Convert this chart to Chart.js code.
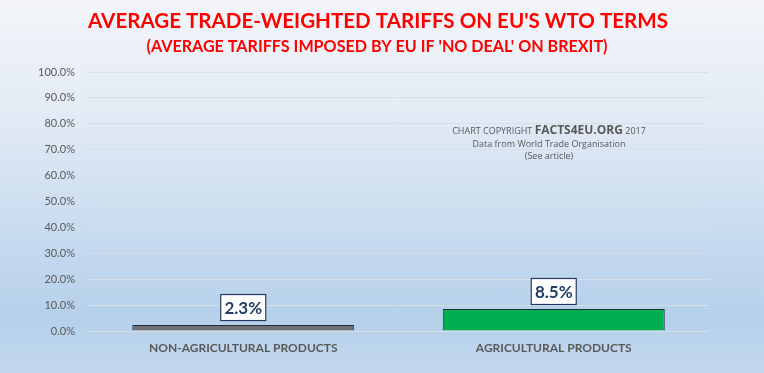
<!DOCTYPE html>
<html lang="en">
<head>
  <meta charset="UTF-8">
  <title>Average trade-weighted tariffs</title>
  <script src="https://cdn.jsdelivr.net/npm/chart.js"></script>
  <style>
    html, body { margin: 0; padding: 0; }
    #wrap {
      width: 764px; height: 373px;
      background: linear-gradient(to bottom, #f3f5f9 0%, #e3ebf5 30%, #c6daef 65%, #b6d0ea 85%, #c2d8ee 100%);
    }
  </style>
</head>
<body>
  <div id="wrap"><canvas id="chart" width="764" height="373"></canvas></div>

  <script>
    const categories = ["NON-AGRICULTURAL PRODUCTS", "AGRICULTURAL PRODUCTS"];
    const tariffs = [2.3, 8.5];
    const barColours = ["#6e6f72", "#00b050"];
    const titleText = "AVERAGE TRADE-WEIGHTED TARIFFS ON EU'S WTO TERMS";
    const subtitleText = "(AVERAGE TARIFFS IMPOSED BY EU IF 'NO DEAL' ON BREXIT)";
    const noteLines = ["Data from World Trade Organisation", "(See article)"];

    // text squeezed to a given width (the original font is Calibri)
    function fitText(ctx, text, cx, y, width) {
      const w = ctx.measureText(text).width;
      ctx.save();
      ctx.translate(cx, y);
      ctx.scale(width / w, 1);
      ctx.fillText(text, 0, 0);
      ctx.restore();
    }

    const headerPlugin = {
      id: "header",
      afterDraw(chart) {
        const ctx = chart.ctx;
        ctx.save();
        ctx.fillStyle = "#ff0000";
        ctx.textAlign = "center";
        ctx.textBaseline = "alphabetic";
        ctx.font = "bold 20px Lato";
        fitText(ctx, titleText, 378, 28, 580);
        ctx.font = "bold 17px Lato";
        fitText(ctx, subtitleText, 377, 52, 461);

        // copyright note
        ctx.fillStyle = "#595959";
        const a = "CHART COPYRIGHT ", b = "FACTS4EU.ORG", c = " 2017";
        ctx.font = "9px 'Open Sans'";
        const wa = ctx.measureText(a).width, wc = ctx.measureText(c).width;
        ctx.font = "bold 12px 'Open Sans'";
        const wb = ctx.measureText(b).width;
        let x = 549 - (wa + wb + wc) / 2;
        ctx.textAlign = "left";
        ctx.font = "9px 'Open Sans'";
        ctx.fillText(a, x, 134);
        ctx.font = "bold 12px 'Open Sans'";
        ctx.fillText(b, x + wa, 134);
        ctx.font = "9px 'Open Sans'";
        ctx.fillText(c, x + wa + wb, 134);
        ctx.textAlign = "center";
        ctx.fillText(noteLines[0], 549, 147);
        ctx.fillText(noteLines[1], 549, 159);
        ctx.restore();
      }
    };

    const valueBoxPlugin = {
      id: "valueBoxes",
      afterDatasetsDraw(chart) {
        const ctx = chart.ctx;
        const meta = chart.getDatasetMeta(0);
        ctx.save();
        ctx.font = "bold 17px Lato";
        ctx.textAlign = "center";
        ctx.textBaseline = "middle";
        meta.data.forEach((bar, i) => {
          const label = tariffs[i].toFixed(1) + "%";
          const w = 46, h = 27;
          const bx = bar.x - w / 2, by = bar.y - 4 - h;
          ctx.fillStyle = "#ffffff";
          ctx.fillRect(bx, by, w, h);
          ctx.strokeStyle = "#1f3864";
          ctx.lineWidth = 1.2;
          ctx.strokeRect(bx + 0.5, by + 0.5, w - 1, h - 1);
          ctx.fillStyle = "#1f3f66";
          ctx.fillText(label, bar.x, by + h / 2 + 1);
        });
        ctx.restore();
      }
    };

    new Chart(document.getElementById("chart"), {
      type: "bar",
      data: {
        labels: categories,
        datasets: [{
          data: tariffs,
          backgroundColor: barColours,
          borderColor: "#1f3040",
          borderWidth: 1,
          barPercentage: 0.715,
          categoryPercentage: 1
        }]
      },
      options: {
        responsive: false,
        animation: false,
        layout: { padding: { top: 72, right: 55, bottom: 0, left: 0 } },
        plugins: { legend: { display: false }, tooltip: { enabled: false } },
        scales: {
          x: {
            afterFit(scale) { scale.height = 42; },
            grid: { display: false },
            border: { display: false },
            ticks: { color: "#595959", font: { family: "Lato", size: 12, weight: "bold" }, padding: 2 }
          },
          y: {
            min: 0, max: 100,
            afterFit(scale) { scale.width = 88; },
            grid: { color: "rgba(215,222,230,0.95)", drawTicks: false },
            border: { display: false },
            ticks: {
              stepSize: 10,
              padding: 13,
              color: "#595959",
              font: { family: "Lato", size: 11 },
              callback: v => v.toFixed(1) + "%"
            }
          }
        }
      },
      plugins: [headerPlugin, valueBoxPlugin]
    });
  </script>
</body>
</html>
